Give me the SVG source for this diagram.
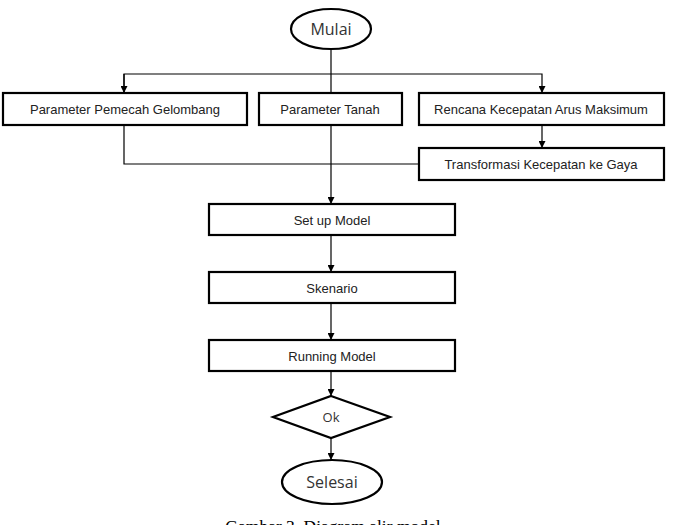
<svg xmlns="http://www.w3.org/2000/svg" width="673" height="525" viewBox="0 0 673 525">
<defs>
<style>
.box{fill:#fff;stroke:#000;stroke-width:2.2}
.term{fill:#fff;stroke:#000;stroke-width:2.2}
.lbl{font-family:"Liberation Sans",Arial,sans-serif;font-size:13px;fill:#222;text-anchor:middle;dominant-baseline:central}
.lbl2{font-family:"Open Sans","Noto Sans",sans-serif;fill:#333;text-anchor:middle;dominant-baseline:central}
.con{fill:none;stroke:#000;stroke-width:1.2}
.cap{font-family:"Liberation Serif","Times New Roman",serif;font-size:17.5px;fill:#000;text-anchor:middle}
</style>
<marker id="arr" viewBox="0 0 10 10" refX="10" refY="5" markerWidth="7" markerHeight="7" orient="auto" markerUnits="userSpaceOnUse">
<path d="M0,0 L10,5 L0,10 z" fill="#000"/>
</marker>
</defs>
<rect width="673" height="525" fill="#fff"/>
<g id="connectors">
<path class="con" d="M331,50 V93"/>
<path class="con" d="M124,93 V74 H542 V93" marker-end="url(#arr)"/>
<path class="con" d="M124,74 V93" marker-end="url(#arr)"/>
<path class="con" d="M542,125 V148" marker-end="url(#arr)"/>
<path class="con" d="M124,125 V164 H419"/>
<path class="con" d="M331,125 V204" marker-end="url(#arr)"/>
<path class="con" d="M331,235 V272" marker-end="url(#arr)"/>
<path class="con" d="M331,303 V340" marker-end="url(#arr)"/>
<path class="con" d="M331,371 V396" marker-end="url(#arr)"/>
<path class="con" d="M331,438 V460" marker-end="url(#arr)"/>
</g>
<g id="mulai">
<ellipse class="term" cx="331" cy="29" rx="40" ry="20"/>
<text class="lbl2" x="331" y="29" font-size="16">Mulai</text>
</g>
<g id="param-pemecah">
<rect class="box" x="3" y="93" width="244" height="32"/>
<text class="lbl" x="125" y="109">Parameter Pemecah Gelombang</text>
</g>
<g id="param-tanah">
<rect class="box" x="259" y="93" width="143" height="32"/>
<text class="lbl" x="330" y="109">Parameter Tanah</text>
</g>
<g id="rencana">
<rect class="box" x="419" y="93" width="245" height="32"/>
<text class="lbl" x="541" y="109">Rencana Kecepatan Arus Maksimum</text>
</g>
<g id="transformasi">
<rect class="box" x="419" y="148" width="245" height="32"/>
<text class="lbl" x="541" y="164">Transformasi Kecepatan ke Gaya</text>
</g>
<g id="setup">
<rect class="box" x="209" y="204" width="246" height="31"/>
<text class="lbl" x="332" y="220">Set up Model</text>
</g>
<g id="skenario">
<rect class="box" x="209" y="272" width="246" height="31"/>
<text class="lbl" x="332" y="288">Skenario</text>
</g>
<g id="running">
<rect class="box" x="209" y="340" width="246" height="31"/>
<text class="lbl" x="332" y="356">Running Model</text>
</g>
<g id="ok">
<polygon class="term" points="331,396 390,417 331,438 273,417"/>
<text class="lbl2" x="331" y="417" font-size="13">Ok</text>
</g>
<g id="selesai">
<ellipse class="term" cx="332" cy="482" rx="50" ry="22"/>
<text class="lbl2" x="332" y="482" font-size="16">Selesai</text>
</g>
<text class="cap" x="333" y="532">Gambar 3. Diagram alir model</text>
</svg>
